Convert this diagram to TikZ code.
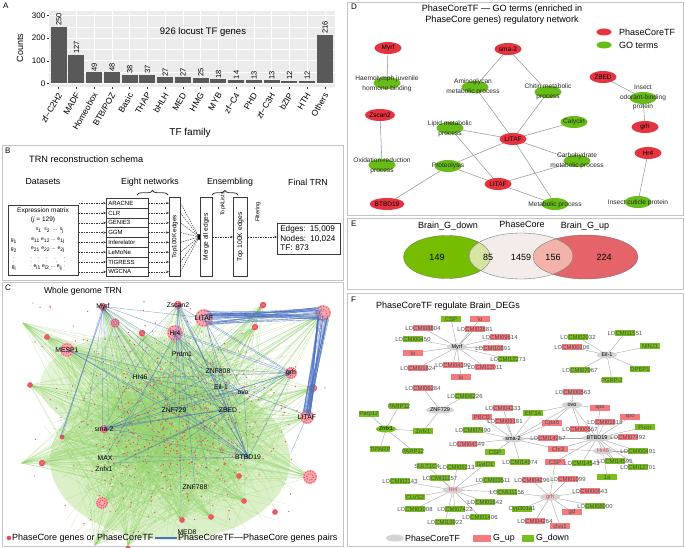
\documentclass[tikz,border=0pt]{standalone}
\usepackage{fontspec}
\setmainfont{Liberation Sans}
\usetikzlibrary{shapes.geometric,arrows.meta,decorations.pathreplacing,calc}
\newcommand{\fsz}[1]{\fontsize{#1}{#1}\selectfont}
\definecolor{barg}{HTML}{595959}
\definecolor{panelbg}{HTML}{EBEBEB}
\definecolor{frameg}{HTML}{C4C4C4}
\definecolor{axisg}{HTML}{333333}
\definecolor{dred}{HTML}{E53340}
\definecolor{dgreen}{HTML}{68BC17}
\definecolor{fred}{HTML}{F47A7E}
\definecolor{fgreen}{HTML}{78BE1C}
\definecolor{hubgray}{HTML}{D3D3D3}
\definecolor{netgreen}{HTML}{92D46A}
\definecolor{netwash}{HTML}{D2EDBB}
\definecolor{netred}{HTML}{F04A57}
\definecolor{netpink}{HTML}{F6A9AE}
\definecolor{netblue}{HTML}{4A70C2}
\definecolor{vgreen}{HTML}{76BC00}
\definecolor{vred}{HTML}{E4646A}
\definecolor{vcore}{HTML}{F3ECE9}
\definecolor{vgc}{HTML}{D6E3A2}
\definecolor{vrc}{HTML}{F3B3AB}
\definecolor{edgeg}{HTML}{9A9A9A}
\definecolor{schem}{HTML}{3A3A3A}
\pgfdeclarelayer{back}
\pgfdeclarelayer{bg}
\pgfsetlayers{back,bg,main}
\tikzset{
 pframe/.style={draw=frameg,line width=0.6pt},
 plet/.style={anchor=north west,inner sep=0pt,font=\fsz{8}},
 sbox/.style={draw=schem,line width=0.5pt,inner sep=0pt},
 dasharr/.style={draw=schem,dash pattern=on 1.5pt off 1pt,line width=0.5pt,-{Stealth[length=2.8pt,width=2.4pt]}},
 dashln/.style={draw=schem,dash pattern=on 1.5pt off 1pt,line width=0.45pt},
 netln/.style={netgreen,line width=0.25pt,opacity=0.5},
 blueln/.style={netblue,line width=0.4pt,opacity=0.6},
 hublab/.style={inner sep=0.5pt,font=\fsz{6.8}},
 tfnode/.style={ellipse,fill=dred,minimum width=27pt,minimum height=12pt,inner sep=0pt,font=\fsz{6.5}},
 gonode/.style={ellipse,fill=dgreen,minimum width=27pt,minimum height=12pt,inner sep=0pt},
 golab/.style={align=center,inner sep=0pt,font=\fontsize{6.6}{9.6}\selectfont,text=black!85},
 dedge/.style={draw=edgeg,line width=0.55pt},
 fhub/.style={ellipse,fill=hubgray,minimum width=20pt,minimum height=7pt,inner sep=0pt,font=\fsz{5.5}},
 fedge/.style={draw=edgeg!85,line width=0.4pt},
 gtext/.style={inner sep=0.3pt,font=\fsz{5.9},text=black!70},
}
\newcommand{\fgene}[5]{%
  \fill[#4] (#2-10,#3-3) rectangle (#2+10,#3+3);
  \node[gtext] (#1) at (#2,#3) {#5};
}
\begin{document}
\begin{tikzpicture}[x=1pt,y=-1pt]
\useasboundingbox (0,0) rectangle (685,548);
\begin{pgfonlayer}{back}
\fill[white] (0,0) rectangle (685,548);
\end{pgfonlayer}
%%%%%%%%%%%%%%%% A
\node[plet] (a-let) at (3,3) {A};
\fill[panelbg] (49,11) rectangle (335,87);
\foreach \val in {50,150,250} \draw[white,line width=0.35pt] (49,{83.3-0.2253*\val}) -- (335,{83.3-0.2253*\val});
\foreach \val in {0,100,200,300}{
 \draw[white,line width=0.8pt] (49,{83.3-0.2253*\val}) -- (335,{83.3-0.2253*\val});
 \draw[axisg,line width=0.5pt] (46.5,{83.3-0.2253*\val}) -- (49,{83.3-0.2253*\val});
 \node[anchor=east,inner sep=0pt,font=\fsz{8}] at (45.5,{83.3-0.2253*\val}) {\val};
}
\foreach \i/\val/\nm in {0/250/zf−C2H2,1/127/MADF,2/49/Homeobox,3/48/{BTB/POZ},4/38/Basic,5/37/THAP,6/27/bHLH,7/27/MED,8/25/HMG,9/18/MYB,10/14/zf−C4,11/13/PHD,12/13/zf−C3H,13/12/bZIP,14/12/HTH,15/216/Others}{
 \pgfmathsetmacro\cx{58.7+17.75*\i}
 \draw[white,line width=0.8pt] (\cx,11) -- (\cx,87);
 \fill[barg] ({\cx-8},83.3) rectangle ({\cx+8},{83.3-0.2253*\val});
 \node[rotate=90,anchor=west,inner sep=0.8pt,font=\fsz{7.5}] at (\cx,{83.3-0.2253*\val}) {\val};
 \draw[axisg,line width=0.5pt] (\cx,87) -- (\cx,89.5);
 \node[rotate=60,anchor=east,inner sep=0.5pt,font=\fsz{8.5}] at ({\cx+1.5},93) {\nm};
}
\node[rotate=90,font=\fsz{9}] (a-ylab) at (20,48) {Counts};
\node[font=\fsz{10}] (a-xlab) at (190,133) {TF family};
\node[font=\fsz{9.5}] (a-note) at (203,32) {926 locust TF genes};
%%%%%%%%%%%%%%%% B
\draw[pframe] (2,145) rectangle (343,280);
\node[plet] (b-let) at (5,148) {B};
\node[anchor=west,inner sep=0pt,font=\fsz{9.2}] (b-title) at (29,159) {TRN reconstruction schema};
\node[font=\fsz{8.8}] (b-h1) at (43,182) {Datasets};
\node[font=\fsz{8.8}] (b-h2) at (150,182) {Eight networks};
\node[font=\fsz{8.8}] (b-h3) at (230,182) {Ensembling};
\node[font=\fsz{8.8}] (b-h4) at (308,182) {Final TRN};
\draw[schem,line width=0.8pt,decorate,decoration={brace,amplitude=4.5pt}] (137,195) -- (168,195);
\draw[schem,line width=0.8pt,decorate,decoration={brace,amplitude=4.5pt}] (212,195) -- (238,195);
\node[sbox,minimum width=70pt,minimum height=70pt,anchor=north west] (b-mat) at (8,205) {};
\node[font=\fsz{6.5}] (b-mt1) at (43,211) {Expression matrix};
\node[font=\fsz{6.5}] (b-mt2) at (43,220) {(\textit{j} = 129)};
\node[font=\fsz{5}] (b-ms) at (50,231) {s\textsubscript{1}\ \ s\textsubscript{2}\ \ ...\ \ s\textsubscript{j}};
\node[font=\fsz{5}] (b-g1) at (14,241) {g\textsubscript{1}};
\node[font=\fsz{5}] (b-r1) at (48,241) {e\textsubscript{11} e\textsubscript{12} ... e\textsubscript{1j}};
\node[font=\fsz{5}] (b-g2) at (14,250) {g\textsubscript{2}};
\node[font=\fsz{5}] (b-r2) at (48,250) {e\textsubscript{21} e\textsubscript{22} ... e\textsubscript{2j}};
\node[font=\fsz{5}] (b-g3) at (14,259) {$\vdots$};
\node[font=\fsz{5}] (b-r3) at (48,259) {$\vdots\quad\ \vdots\quad\ \vdots\quad\ddots\ \ \vdots$};
\node[font=\fsz{5}] (b-g4) at (14,268) {g\textsubscript{i}};
\node[font=\fsz{5}] (b-r4) at (48,268) {e\textsubscript{i1} e\textsubscript{i2} ... e\textsubscript{ij}};
\node[sbox,minimum width=11pt,minimum height=79pt,anchor=north west] (b-top1) at (169,197) {};
\node[rotate=90,font=\fsz{6.3}] (b-top1t) at (b-top1.center) {Top100K edges};
\coordinate (b-hub) at (199,237);
\foreach \i/\nm in {1/ARACNE,2/CLR,3/GENIE3,4/GGM,5/Inferelator,6/LeMoNe,7/TIGRESS,8/WGCNA}{
  \node[sbox,anchor=north west,minimum height=9.8pt,text width=38pt,inner xsep=2pt,align=left,font=\fsz{6}] (b-alg\i) at (106,{198+9.8*(\i-1)}) {\nm};
  \draw[dasharr] (b-mat.east |- b-alg\i.west) -- (b-alg\i.west);
  \draw[dasharr] (b-alg\i.east) -- (b-top1.west |- b-alg\i.east);
  \draw[dashln] (b-top1.east |- b-alg\i.east) -- (b-hub);
}
\fill[black] (b-hub) ellipse (1.6pt and 3pt);
\node[sbox,minimum width=12pt,minimum height=79pt,anchor=north west] (b-merge) at (200,197) {};
\node[rotate=90,font=\fsz{6.6}] (b-merget) at (b-merge.center) {Merge all edges};
\node[sbox,minimum width=14pt,minimum height=79pt,anchor=north west] (b-top2) at (233,197) {};
\node[rotate=90,font=\fsz{6.8}] (b-top2t) at (b-top2.center) {Top 100K edges};
\node[rotate=90,font=\fsz{5.4}] (b-topk) at (223,204) {TopKLists};
\node[rotate=90,font=\fsz{5.6}] (b-filt) at (258,212) {Filtering};
\node[sbox,anchor=north west,text width=57pt,inner sep=3pt,minimum height=31pt,align=left,font=\fontsize{8.2}{9.6}\selectfont] (b-final) at (277,222.5) {Edges: 15,009\\Nodes: 10,024\\TF: 873};
\draw[dasharr] (b-merge.east |- b-hub) -- (b-top2.west |- b-hub);
\draw[dasharr] (b-top2.east |- b-hub) -- (b-final.west |- b-hub);
%%%%%%%%%%%%%%%% C
\draw[pframe] (2,282) rectangle (343,546);
\node[plet] (c-let) at (5,285) {C};
\node[font=\fsz{8.6}] (c-title) at (83,291) {Whole genome TRN};
\fill[netwash,opacity=0.8] (170,460) ellipse (120pt and 80pt);
\fill[netwash,opacity=0.6] (135,385) ellipse (95pt and 50pt);
\pgfmathsetseed{4242}
\foreach \hx/\hy in {204/318,323/313,175/333,67/350,291/373,307/417,310/477,102/503,115/323,142/333,263/305,255/327,313/388,42/463,23/323,22/463,47/337,30/385,103/307,178/305,104/429,62/437,239/476,244/501,182/520,211/517,128/545,95/545}{
  \foreach \k in {1,...,30}{
    \pgfmathsetmacro\xb{55+230*(rnd+rnd)/2}
    \pgfmathsetmacro\yb{330+210*(rnd+rnd)/2}
    \draw[netln] (\hx,\hy) -- (\xb,\yb);
  }
}
\foreach \k in {1,...,600}{
  \pgfmathsetmacro\xa{40+260*(rnd+rnd+rnd)/3}
  \pgfmathsetmacro\ya{320+225*(rnd+rnd+rnd)/3}
  \pgfmathsetmacro\xb{40+260*(rnd+rnd)/2}
  \pgfmathsetmacro\yb{320+225*(rnd+rnd)/2}
  \draw[netln] (\xa,\ya) -- (\xb,\yb);
}
\foreach \k in {1,...,560}{
  \pgfmathsetmacro\xa{40+270*(rnd+rnd+rnd)/3}
  \pgfmathsetmacro\ya{305+235*(rnd+rnd+rnd)/3}
  \fill[netred] (\xa,\ya) circle[radius=0.7pt];
}
\foreach \k in {1,...,90}{
  \pgfmathsetmacro\xa{30+295*rnd}
  \pgfmathsetmacro\ya{300+240*rnd}
  \fill[netred] (\xa,\ya) circle[radius=0.7pt];
}
\foreach \cxx/\cyy/\rr in {204/318/9,323/313/8,175/333/8,67/350/7,291/373/6,307/417/7,310/477/7,102/503/6,115/323/4.5,142/333/3,263/305/3,255/327/3,313/388/4,42/463/3,103/307/4,178/305/4,104/429/4,239/476/2.5,244/501/2.5,182/520/2.5,211/517/2.5,62/437/2,47/337/2.5,30/385/2.5,275/512/2.5,128/548/2}{
  \fill[netpink] (\cxx,\cyy) circle[radius=\rr pt];
  \foreach \ang in {0,25,...,359} \fill[netred] ({\cxx+0.85*\rr*cos(\ang)},{\cyy+0.85*\rr*sin(\ang)}) circle[radius=0.7pt];
  \foreach \ang in {10,55,...,359} \fill[netred] ({\cxx+0.45*\rr*cos(\ang)},{\cyy+0.45*\rr*sin(\ang)}) circle[radius=0.7pt];
}
\coordinate (c-myrf) at (103,307);
\coordinate (c-zscan) at (178,305);
\coordinate (c-litaf1) at (204,318);
\coordinate (c-tr) at (323,313);
\coordinate (c-hr4) at (175,333);
\coordinate (c-mesp) at (67,350);
\coordinate (c-prdm) at (182,354);
\coordinate (c-znf808) at (218,371);
\coordinate (c-hr46) at (140,377);
\coordinate (c-grh) at (291,373);
\coordinate (c-eil) at (221,387);
\coordinate (c-ovo) at (243,393);
\coordinate (c-znf729) at (174,410);
\coordinate (c-zbed) at (228,410);
\coordinate (c-litaf2) at (307,417);
\coordinate (c-sma) at (104,429);
\coordinate (c-max) at (105,458);
\coordinate (c-btbd) at (248,457);
\coordinate (c-znfx) at (104,469);
\coordinate (c-znf788) at (195,487);
\coordinate (c-med8) at (187,532);
\coordinate (c-low) at (62,437);
\coordinate (c-rl) at (290,452);
\foreach \k in {1,...,30}{
  \draw[blueln,opacity=0.75] ($(c-litaf1)+({4+4*rand},{7*rand})$) -- ($(c-tr)+({-3+5*rand},{7*rand})$);
  \draw[blueln,opacity=0.75] ($(c-tr)+({6*rand},{5+3*rand})$) -- ($(c-litaf2)+({4*rand},{-4+3*rand})$);
}
\foreach \ea/\eb in {c-myrf/c-low,c-myrf/c-low,c-myrf/c-low,c-sma/c-zbed,c-sma/c-zbed,c-sma/c-zbed,c-myrf/c-sma,c-myrf/c-litaf1,c-myrf/c-znf729,c-myrf/c-grh,c-myrf/c-ovo,c-myrf/c-zbed,c-myrf/c-btbd,c-myrf/c-hr46,c-zscan/c-hr4,c-zscan/c-znf729,c-zscan/c-zbed,c-zscan/c-btbd,c-zscan/c-eil,c-zscan/c-znf788,c-zscan/c-grh,c-hr4/c-znf808,c-hr4/c-grh,c-hr4/c-ovo,c-hr4/c-btbd,c-hr4/c-zbed,c-hr4/c-max,c-hr4/c-eil,c-litaf1/c-grh,c-litaf1/c-ovo,c-litaf1/c-zbed,c-litaf1/c-btbd,c-sma/c-ovo,c-sma/c-grh,c-sma/c-eil,c-sma/c-znf808,c-mesp/c-ovo,c-mesp/c-zbed,c-mesp/c-btbd,c-mesp/c-znf729,c-znf729/c-btbd,c-znf729/c-grh,c-hr46/c-ovo,c-hr46/c-grh,c-hr46/c-btbd,c-zbed/c-grh,c-zbed/c-btbd,c-litaf2/c-ovo,c-litaf2/c-rl,c-znfx/c-zbed,c-max/c-btbd,c-eil/c-btbd,c-ovo/c-grh,c-prdm/c-btbd,c-znf808/c-grh,c-ovo/c-btbd,c-grh/c-btbd}{
  \draw[blueln] ($(\ea)+({1.5*rand},{1.5*rand})$) -- ($(\eb)+({1.5*rand},{1.5*rand})$);
}
\foreach \hx/\hy in {103/307,178/305,175/333,104/429,228/410,248/457,243/393}{
  \foreach \k in {1,...,4}{
    \pgfmathsetmacro\xb{60+220*(rnd+rnd)/2}
    \pgfmathsetmacro\yb{340+180*(rnd+rnd)/2}
    \draw[blueln,opacity=0.45] (\hx,\hy) -- (\xb,\yb);
  }
}
\foreach \cn/\tx in {c-myrf/Myrf,c-zscan/Zscan2,c-litaf1/LITAF,c-hr4/Hr4,c-mesp/MESP1,c-prdm/Prdm1,c-znf808/ZNF808,c-hr46/Hr46,c-grh/grh,c-eil/Eil-1,c-ovo/ovo,c-znf729/ZNF729,c-zbed/ZBED,c-litaf2/LITAF,c-sma/sma-2,c-max/MAX,c-btbd/BTBD19,c-znfx/Znfx1,c-znf788/ZNF788,c-med8/MED8}
  \node[hublab] (l-\cn) at (\cn) {\tx};
\fill[netred] (9,538) circle[radius=2.3pt];
\node[anchor=west,inner sep=0pt,font=\fsz{9}] (c-leg1) at (12,538) {PhaseCore genes or PhaseCoreTF};
\draw[netblue,line width=1.3pt] (155,538) -- (177,538);
\node[anchor=west,inner sep=0pt,font=\fsz{9}] (c-leg2) at (178,538) {PhaseCoreTF—PhaseCore genes pairs};
%%%%%%%%%%%%%%%% D
\draw[pframe] (347,2) rectangle (683,215);
\node[plet] (d-let) at (351,4) {D};
\node[align=center,font=\fontsize{9.1}{11.5}\selectfont] (d-title) at (502,14.5) {PhaseCoreTF — GO terms (enriched in\\PhaseCore genes) regulatory network};
\node[tfnode,minimum width=15pt,minimum height=7pt] (d-leg1) at (604,32) {};
\node[anchor=west,inner sep=0pt,font=\fsz{9}] (d-leg1t) at (619,32.5) {PhaseCoreTF};
\node[gonode,minimum width=15pt,minimum height=7pt] (d-leg2) at (604,45) {};
\node[anchor=west,inner sep=0pt,font=\fsz{9}] (d-leg2t) at (619,45.5) {GO terms};
\node[tfnode] (d-myrf) at (388,48) {Myrf};
\node[gonode] (d-haem) at (387,83) {};
\node[golab] (d-haemL) at (387,83.5) {Haemolymph juvenile\\hormone binding};
\node[tfnode] (d-sma) at (508,49) {sma-2};
\node[gonode] (d-amino) at (475,87) {};
\node[golab] (d-aminoL) at (473,87) {Aminoglycan\\metabolic process};
\node[gonode] (d-chitin) at (548,92) {};
\node[golab] (d-chitinL) at (548,92) {Chitin metabolic\\process};
\node[tfnode] (d-zbed) at (603,77) {ZBED};
\node[gonode] (d-odor) at (643,98) {};
\node[golab] (d-odorL) at (643,97.5) {Insect\\odorant-binding\\protein};
\node[tfnode] (d-grh) at (645,127) {grh};
\node[tfnode] (d-zscan) at (380,115) {Zscan2};
\node[gonode] (d-oxid) at (382,165) {};
\node[golab] (d-oxidL) at (382,166) {Oxidation-reduction\\process};
\node[gonode] (d-lipid) at (450,128) {};
\node[golab] (d-lipidL) at (450,129) {Lipid metabolic\\process};
\node[tfnode] (d-litaf1) at (513,139) {LITAF};
\node[gonode] (d-calycin) at (574,122) {};
\node[golab] (d-calycinL) at (574,122) {Calycin};
\node[gonode] (d-carb) at (577,161) {};
\node[golab] (d-carbL) at (577,161) {Carbohydrate\\metabolic process};
\node[tfnode] (d-hr4) at (648,153) {Hr4};
\node[gonode] (d-prot) at (448,166) {};
\node[golab] (d-protL) at (448,166) {Proteolysis};
\node[tfnode] (d-litaf2) at (498,184) {LITAF};
\node[gonode] (d-metab) at (555,204) {};
\node[golab] (d-metabL) at (555,204.5) {Metabolic process};
\node[gonode] (d-cutic) at (638,202) {};
\node[golab] (d-cuticL) at (638,202.5) {Insect cuticle protein};
\node[tfnode] (d-btbd) at (387,204) {BTBD19};
\begin{pgfonlayer}{bg}
\foreach \ea/\eb in {d-myrf/d-haem,d-sma/d-amino,d-sma/d-chitin,d-zbed/d-odor,d-odor/d-grh,d-zscan/d-oxid,d-litaf1/d-amino,d-litaf1/d-chitin,d-litaf1/d-lipid,d-litaf1/d-calycin,d-litaf1/d-carb,d-litaf1/d-prot,d-litaf1/d-metab,d-litaf2/d-lipid,d-litaf2/d-prot,d-litaf2/d-carb,d-litaf2/d-metab,d-prot/d-btbd,d-hr4/d-cutic}
  \draw[dedge] (\ea.center) -- (\eb.center);
\end{pgfonlayer}
%%%%%%%%%%%%%%%% E
\draw[pframe] (347,218) rectangle (683,289);
\node[plet] (e-let) at (351,221) {E};
\fill[vgreen] (447,257) ellipse (43.5pt and 21.5pt);
\fill[vred] (585.5,257) ellipse (52.5pt and 22pt);
\fill[vcore] (521,256) ellipse (52pt and 23pt);
\begin{scope}
 \clip (521,256) ellipse (52pt and 23pt);
 \fill[vgc] (447,257) ellipse (43.5pt and 21.5pt);
 \fill[vrc] (585.5,257) ellipse (52.5pt and 22pt);
\end{scope}
\draw[black!55,line width=0.35pt] (447,257) ellipse (43.5pt and 21.5pt);
\draw[black!55,line width=0.35pt] (585.5,257) ellipse (52.5pt and 22pt);
\draw[black!55,line width=0.35pt] (521,256) ellipse (52pt and 23pt);
\node[font=\fsz{9}] (e-l1) at (448,226.5) {Brain\_G\_down};
\node[font=\fsz{9}] (e-l2) at (522,224.5) {PhaseCore};
\node[font=\fsz{9}] (e-l3) at (585,226.5) {Brain\_G\_up};
\node[font=\fsz{9}] (e-n1) at (437,257) {149};
\node[font=\fsz{9}] (e-n2) at (488,257) {85};
\node[font=\fsz{9}] (e-n3) at (521,257) {1459};
\node[font=\fsz{9}] (e-n4) at (553,257) {156};
\node[font=\fsz{9}] (e-n5) at (604,257) {224};
%%%%%%%%%%%%%%%% F
\draw[pframe] (347,293) rectangle (683,546);
\node[plet] (f-let) at (351,297) {F};
\node[font=\fsz{9}] (f-title) at (448,306) {PhaseCoreTF regulate Brain\_DEGs};
\node[fhub] (f-myrf) at (457,347) {Myrf};
\node[fhub] (f-eil) at (607,355) {Eil-1};
\node[fhub] (f-znf729) at (440,410) {ZNF729};
\node[fhub,fill=fgreen] (f-znfx) at (386,429) {Znfx1};
\node[fhub] (f-sma) at (513,439) {sma-2};
\node[fhub] (f-ovo) at (572,405) {ovo};
\node[fhub] (f-btbd) at (597,438) {BTBD19};
\node[fhub,text=dred] (f-hr46) at (603,451) {Hr46};
\node[fhub,text=dred] (f-hr4) at (453,490) {Hr4};
\node[fhub,text=dred] (f-grh) at (550,497) {grh};
\fgene{f-csp1}{451}{319}{fgreen}{CSP}
\fgene{f-lo1}{480}{319}{fred}{lo}
\fgene{f-l08804}{423}{328}{fred}{LOCMI08804}
\fgene{f-l02881}{475}{329}{fred}{LOCMI02881}
\fgene{f-l09614}{500}{337}{fred}{LOCMI09614}
\fgene{f-l00450}{413}{339}{fgreen}{LOCMI00450}
\fgene{f-l10891}{493}{348}{fred}{LOCMI10891}
\fgene{f-lo2}{413}{353}{fred}{lo}
\fgene{f-l12273}{508}{359}{fgreen}{LOCMI12273}
\fgene{f-l01624}{418}{368}{fred}{LOCMI01624}
\fgene{f-l04390}{453}{365}{fred}{LOCMI04390}
\fgene{f-l12011}{485}{367}{fred}{LOCMI12011}
\fgene{f-lo3}{461}{377}{fred}{lo}
\fgene{f-l02032}{578}{337}{fgreen}{LOCMI02032}
\fgene{f-l11551}{625}{333}{fgreen}{LOCMI11551}
\fgene{f-l00106}{572}{347}{fred}{LOCMI00106}
\fgene{f-ninj}{650}{346}{fgreen}{NINJ1}
\fgene{f-l07967}{580}{370}{fgreen}{LOCMI07967}
\fgene{f-dpep}{640}{369}{fgreen}{DPEP1}
\fgene{f-pgrp}{612}{380}{fgreen}{PGRP-2}
\fgene{f-l06284}{423}{388}{fred}{LOCMI06284}
\fgene{f-l06226}{465}{396}{fgreen}{LOCMI06226}
\fgene{f-znfx1g}{423}{431}{fgreen}{Znfx1}
\fgene{f-parp1}{399}{406}{fgreen}{PARP12}
\fgene{f-parp2}{369}{414}{fgreen}{Parp12}
\fgene{f-tiparp}{380}{449}{fgreen}{TIPARP}
\fgene{f-parp3}{413}{451}{fgreen}{PARP12}
\fgene{f-l04333}{503}{408}{fred}{LOCMI04333}
\fgene{f-pbcb}{482}{417}{fred}{PBCB}
\fgene{f-l09181}{505}{421}{fred}{LOCMI09181}
\fgene{f-eif}{533}{413}{fgreen}{EIF3A}
\fgene{f-l07490}{473}{430}{fgreen}{LOCMI07490}
\fgene{f-l04349}{467}{444}{fred}{LOCMI04349}
\fgene{f-csp2}{495}{452}{fgreen}{CSP}
\fgene{f-l14974}{520}{462}{fgreen}{LOCMI14974}
\fgene{f-cpa6}{552}{423}{fred}{Cpa6}
\fgene{f-l14257}{548}{438}{fred}{LOCMI14257}
\fgene{f-chi3}{558}{449}{fred}{Chi3}
\fgene{f-l00563}{573}{392}{fred}{LOCMI00563}
\fgene{f-spo1}{600}{408}{fred}{spo}
\fgene{f-l00567}{580}{429}{fred}{LOCMI00567}
\fgene{f-l01818}{605}{422}{fred}{LOCMI01818}
\fgene{f-spo2}{630}{417}{fred}{spo}
\fgene{f-picor}{645}{427}{fgreen}{Picor}
\fgene{f-l07492}{628}{437}{fred}{LOCMI07492}
\fgene{f-l00491}{638}{451}{fgreen}{LOCMI00491}
\fgene{f-csp3}{555}{462}{fred}{CSP}
\fgene{f-l14543}{582}{463}{fgreen}{LOCMI14543}
\fgene{f-l14595}{615}{461}{fgreen}{LOCMI14595}
\fgene{f-l12701}{638}{467}{fgreen}{LOCMI12701}
\fgene{f-1a}{607}{477}{fgreen}{1a}
\fgene{f-sult}{427}{466}{fgreen}{SULT1C4}
\fgene{f-l05213}{457}{467}{fgreen}{LOCMI05213}
\fgene{f-gstd1}{485}{464}{fgreen}{GstD1}
\fgene{f-l11157}{440}{478}{fgreen}{LOCMI11157}
\fgene{f-l02143}{400}{481}{fgreen}{LOCMI02143}
\fgene{f-l03511}{493}{480}{fgreen}{LOCMI03511}
\fgene{f-clvs2}{415}{497}{fgreen}{CLVS2}
\fgene{f-l11156}{507}{492}{fgreen}{LOCMI11156}
\fgene{f-l01642}{485}{502}{fgreen}{LOCMI01642}
\fgene{f-l03008}{415}{509}{fgreen}{LOCMI03008}
\fgene{f-l07422}{455}{509}{fgreen}{LOCMI07422}
\fgene{f-l01406}{480}{517}{fgreen}{LOCMI01406}
\fgene{f-l13922}{445}{522}{fgreen}{LOCMI13922}
\fgene{f-l04296}{532}{480}{fred}{LOCMI04296}
\fgene{f-l01099}{568}{479}{fred}{LOCMI01099}
\fgene{f-l00643}{590}{491}{fred}{LOCMI00643}
\fgene{f-cyp}{522}{509}{fgreen}{Cyp301a1}
\fgene{f-l08000}{595}{506}{fgreen}{LOCMI08000}
\fgene{f-gd}{572}{512}{fred}{gd}
\fgene{f-l04264}{535}{521}{fred}{LOCMI04264}
\fgene{f-clvs1}{560}{526}{fred}{clvs1}
\begin{pgfonlayer}{bg}
\foreach \eb in {f-csp1,f-lo1,f-l08804,f-l02881,f-l09614,f-l00450,f-l10891,f-lo2,f-l12273,f-l01624,f-l04390,f-l12011,f-lo3}
  \draw[fedge] (f-myrf.center) -- (\eb.center);
\foreach \eb in {f-l02032,f-l11551,f-l00106,f-ninj,f-l07967,f-dpep,f-pgrp}
  \draw[fedge] (f-eil.center) -- (\eb.center);
\foreach \eb in {f-l06284,f-l06226,f-znfx1g}
  \draw[fedge] (f-znf729.center) -- (\eb.center);
\foreach \eb in {f-parp1,f-parp2,f-tiparp,f-parp3,f-znfx1g}
  \draw[fedge] (f-znfx.center) -- (\eb.center);
\foreach \eb in {f-l04333,f-pbcb,f-l09181,f-eif,f-l07490,f-l04349,f-csp2,f-l14974,f-cpa6,f-l14257,f-chi3,f-btbd,f-ovo}
  \draw[fedge] (f-sma.center) -- (\eb.center);
\foreach \eb in {f-l00563,f-eif,f-cpa6,f-spo1,f-l00567,f-btbd}
  \draw[fedge] (f-ovo.center) -- (\eb.center);
\foreach \eb in {f-l01818,f-spo2,f-spo1,f-picor,f-l07492,f-l00491,f-l00567,f-chi3,f-l14257,f-csp3,f-l14543,f-l14595,f-l12701,f-hr46}
  \draw[fedge] (f-btbd.center) -- (\eb.center);
\foreach \eb in {f-chi3,f-1a,f-l14595,f-l00491}
  \draw[fedge] (f-hr46.center) -- (\eb.center);
\foreach \eb in {f-sult,f-l05213,f-gstd1,f-l11157,f-l02143,f-l03511,f-clvs2,f-l11156,f-l01642,f-l03008,f-l07422,f-l01406,f-l13922}
  \draw[fedge] (f-hr4.center) -- (\eb.center);
\foreach \eb in {f-l04296,f-l01099,f-l00643,f-cyp,f-l08000,f-gd,f-l04264,f-clvs1,f-csp3,f-l11156}
  \draw[fedge] (f-grh.center) -- (\eb.center);
\end{pgfonlayer}
\node[fhub,minimum width=18pt,minimum height=7pt] (f-leg1) at (395,538) {};
\node[anchor=west,inner sep=0pt,font=\fsz{8.8}] (f-leg1t) at (405,538.5) {PhaseCoreTF};
\fill[fred] (473,534.5) rectangle (491,541.5);
\node[anchor=west,inner sep=0pt,font=\fsz{8.8}] (f-leg2t) at (493,538.5) {G\_up};
\fill[fgreen] (522,534.5) rectangle (534,541.5);
\node[anchor=west,inner sep=0pt,font=\fsz{8.8}] (f-leg3t) at (536,538.5) {G\_down};
\end{tikzpicture}
\end{document}
